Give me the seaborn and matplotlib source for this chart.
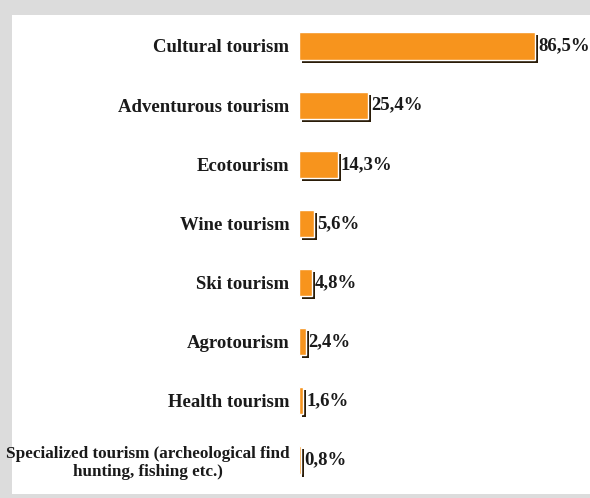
import matplotlib
matplotlib.use("Agg")
import matplotlib.pyplot as plt
import matplotlib.patheffects as pe
from matplotlib.patches import Rectangle
import seaborn as sns
import pandas as pd

categories = [
    "Cultural tourism",
    "Adventurous tourism",
    "Ecotourism",
    "Wine tourism",
    "Ski tourism",
    "Agrotourism",
    "Health tourism",
    "Specialized tourism (archeological find\nhunting, fishing etc.)",
]
values = [86.5, 25.4, 14.3, 5.6, 4.8, 2.4, 1.6, 0.8]
value_labels = ["86,5%", "25,4%", "14,3%", "5,6%", "4,8%", "2,4%", "1,6%", "0,8%"]

df = pd.DataFrame({"category": categories, "value": values})

sns.set_theme(style="white")
plt.rcParams["font.family"] = ["Liberation Serif", "DejaVu Serif"]

W, H = 590, 498
fig = plt.figure(figsize=(W / 100, H / 100), dpi=100)
fig.patch.set_facecolor("#dcdcdc")
fig.patches.append(Rectangle((12 / W, 1 - 494 / H), 1 - 12 / W, (494 - 15) / H,
                             transform=fig.transFigure, facecolor="white",
                             edgecolor="none", zorder=-10))

ax = fig.add_axes([299 / W, 1 - 489.5 / H, 1 - 299 / W, (489.5 - 16.4) / H])
ax.set_zorder(5)
ax.set_facecolor("none")

sns.barplot(data=df, x="value", y="category", orient="h", color="#F7941D",
            saturation=1, width=0.46, ax=ax)

for bar in ax.patches:
    bar.set_path_effects([
        pe.SimplePatchShadow(offset=(2.2, -2.2), shadow_rgbFace="#2a1c08", alpha=1.0),
        pe.Normal(),
    ])

ax.bar_label(ax.containers[0], labels=value_labels, padding=2,
             fontsize=13.5, fontweight="bold", color="#1a1a1a")

ax.set_xlim(0, 106.6)
ax.set_ylim(7.5, -0.5)
ax.set_xlabel("")
ax.set_ylabel("")
ax.set_xticks([])
ax.tick_params(axis="y", length=0, pad=7)
ticklabels = ax.get_yticklabels()
for i, lbl in enumerate(ticklabels):
    lbl.set_fontsize(13.5 if i < len(ticklabels) - 1 else 12.3)
    lbl.set_fontweight("bold")
    lbl.set_color("#1a1a1a")
    lbl.set_horizontalalignment("right")
    lbl.set_multialignment("center")
for s in ax.spines.values():
    s.set_visible(False)

fig.savefig("out.png", dpi=100, facecolor=fig.get_facecolor())
